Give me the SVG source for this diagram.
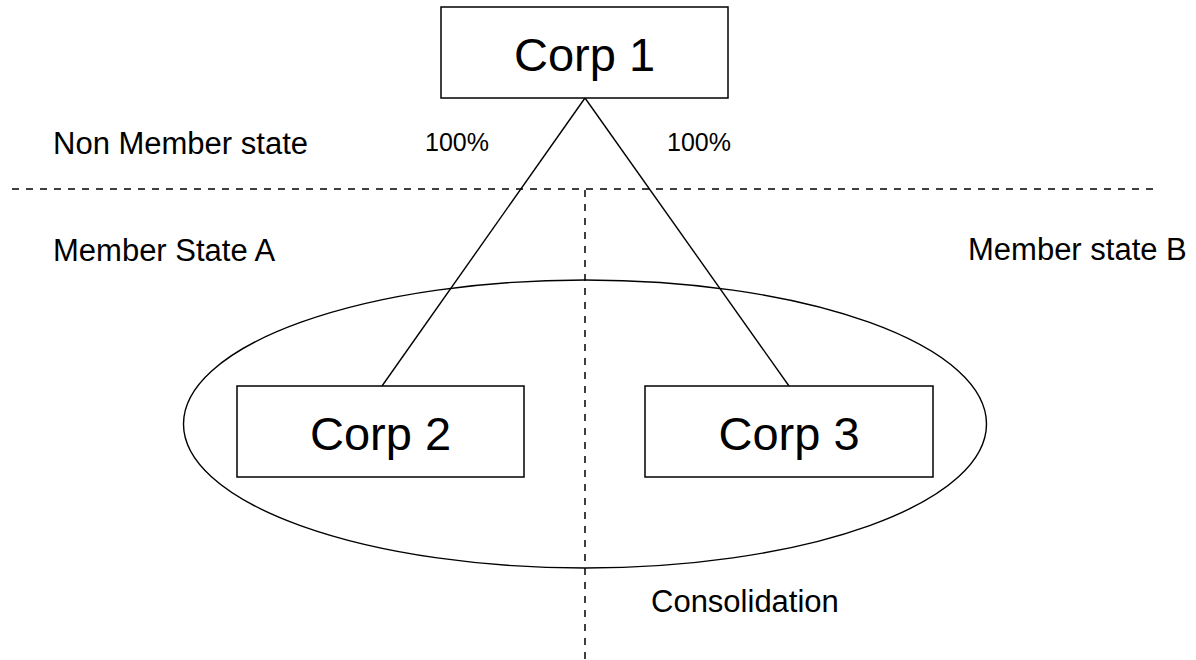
<svg xmlns="http://www.w3.org/2000/svg" width="1196" height="660" viewBox="0 0 1196 660">
<style>
.box{fill:#fff;stroke:#000;stroke-width:1.5}
.big{font-family:"Liberation Sans",Arial,sans-serif;font-size:47px;fill:#000;text-anchor:middle}
.lbl{font-family:"Liberation Sans",Arial,sans-serif;font-size:31px;fill:#000}
.pct{font-family:"Liberation Sans",Arial,sans-serif;font-size:25px;fill:#000}
.dash{stroke:#000;stroke-width:1.5;stroke-dasharray:7 7;fill:none}
.conn{stroke:#000;stroke-width:1.4;fill:none}
</style>
<rect width="1196" height="660" fill="#fff"/>
<g id="boundaries">
<line class="dash" x1="12" y1="189" x2="1154" y2="189"/>
<line class="dash" x1="585" y1="190" x2="585" y2="660"/>
</g>
<g id="consolidation">
<ellipse cx="585" cy="424" rx="401.5" ry="144" fill="none" stroke="#000" stroke-width="1.4"/>
</g>
<g id="connectors">
<line class="conn" x1="585" y1="98" x2="382" y2="386"/>
<line class="conn" x1="585" y1="98" x2="789" y2="386"/>
</g>
<g id="corp1">
<rect class="box" x="441" y="7" width="287" height="91"/>
<text class="big" x="584.5" y="71">Corp 1</text>
</g>
<g id="corp2">
<rect class="box" x="237" y="386" width="287" height="91"/>
<text class="big" x="380.5" y="450">Corp 2</text>
</g>
<g id="corp3">
<rect class="box" x="645" y="386" width="288" height="91"/>
<text class="big" x="789" y="450">Corp 3</text>
</g>
<g id="labels">
<text class="lbl" x="53" y="154">Non Member state</text>
<text class="pct" x="425" y="151">100%</text>
<text class="pct" x="667" y="151">100%</text>
<text class="lbl" x="53" y="261">Member State A</text>
<text class="lbl" x="968" y="260">Member state B</text>
<text class="lbl" x="651" y="612">Consolidation</text>
</g>
</svg>
